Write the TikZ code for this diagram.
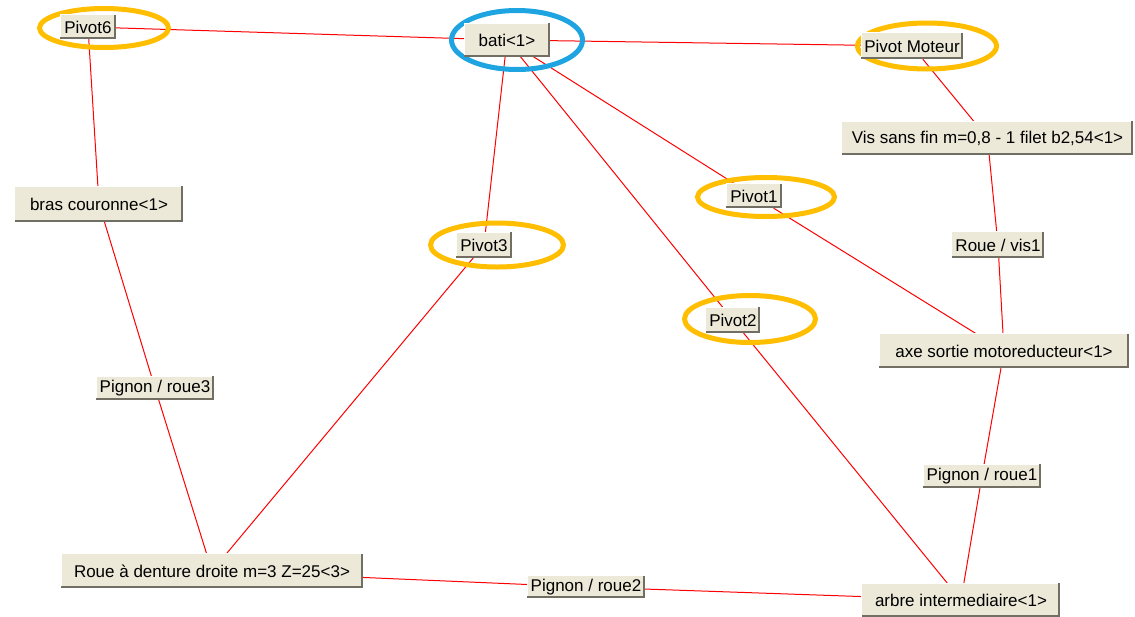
\documentclass[tikz,border=0pt]{standalone}
\usepackage{fontspec}
\setmainfont{Liberation Sans}
\definecolor{btn}{RGB}{236,233,216}
\definecolor{btnshadow}{RGB}{113,111,100}
\definecolor{ringorange}{RGB}{255,190,0}
\definecolor{ringblue}{RGB}{30,165,225}
\pgfdeclarelayer{edges}
\pgfdeclarelayer{rings}
\pgfsetlayers{edges,rings,main}
\newcommand{\bevel}[1]{%
  \draw[bevlight] (#1.south west) -- (#1.north west) -- (#1.north east);
  \draw[bevdark] ([xshift=-1pt]#1.north east) -- ([xshift=-1pt,yshift=1pt]#1.south east) -- ([yshift=1pt]#1.south west);}
\begin{document}
\begin{tikzpicture}[x=1pt,y=-1pt,
  btnbox/.style={fill=btn, inner sep=0pt, text=black, font=\fontsize{17}{19}\selectfont},
  bevlight/.style={draw=white, line width=1pt},
  bevdark/.style={draw=btnshadow, line width=2pt},
  link/.style={draw=red, line width=1pt},
  ringo/.style={draw=ringorange, line width=5pt},
  ringb/.style={draw=ringblue, line width=5pt}]
\begin{pgfonlayer}{edges}
\fill[white] (0,0) rectangle (1135,616);
\end{pgfonlayer}
\useasboundingbox (0,0) rectangle (1135,616);

\node[btnbox, minimum width=55pt, minimum height=24pt] (p6) at (88,27) {Pivot6};
\node[btnbox, minimum width=85pt, minimum height=33pt] (bati) at (507,40) {bati<1>};
\node[btnbox, minimum width=101pt, minimum height=26pt] (pm) at (912,46) {Pivot Moteur};
\node[btnbox, minimum width=291pt, minimum height=33pt] (vis) at (987.5,138) {Vis sans fin m=0,8 - 1 filet b2,54<1>};
\node[btnbox, minimum width=168pt, minimum height=35pt] (bras) at (99,204) {bras couronne<1>};
\node[btnbox, minimum width=55pt, minimum height=25pt] (p3) at (484,245) {Pivot3};
\node[btnbox, minimum width=55pt, minimum height=24pt] (p1) at (754,196) {Pivot1};
\node[btnbox, minimum width=54pt, minimum height=25pt] (p2) at (733,320) {Pivot2};
\node[btnbox, minimum width=92pt, minimum height=26pt] (rv1) at (998,245) {Roue / vis1};
\node[btnbox, minimum width=249pt, minimum height=34pt] (axe) at (1004,351) {axe sortie motoreducteur<1>};
\node[btnbox, minimum width=117pt, minimum height=23pt] (pr3) at (155,388) {Pignon / roue3};
\node[btnbox, minimum width=117pt, minimum height=23pt] (pr1) at (982,476) {Pignon / roue1};
\node[btnbox, minimum width=301pt, minimum height=34pt] (roue) at (212,571) {Roue à denture droite m=3 Z=25<3>};
\node[btnbox, minimum width=117pt, minimum height=22pt] (pr2) at (586,587) {Pignon / roue2};
\node[btnbox, minimum width=198pt, minimum height=33pt] (arbre) at (961,600) {arbre intermediaire<1>};

\foreach \n in {p6,bati,pm,vis,bras,p3,p1,p2,rv1,axe,pr3,pr1,roue,pr2,arbre}{\bevel{\n}}

\begin{pgfonlayer}{edges}
\draw[link] (p6) -- (bati);
\draw[link] (bati) -- (pm);
\draw[link] (pm) -- (vis);
\draw[link] (vis) -- (rv1);
\draw[link] (rv1) -- (axe);
\draw[link] (bati) -- (p1);
\draw[link] (p1) -- (axe);
\draw[link] (bati) -- (p3);
\draw[link] (p3) -- (roue);
\draw[link] (bati) -- (p2);
\draw[link] (p2) -- (arbre);
\draw[link] (axe) -- (pr1);
\draw[link] (pr1) -- (arbre);
\draw[link] (arbre) -- (pr2);
\draw[link] (pr2) -- (roue);
\draw[link] (p6) -- (bras);
\draw[link] (bras) -- (pr3);
\draw[link] (pr3) -- (roue);
\end{pgfonlayer}

\begin{pgfonlayer}{rings}
\draw[ringo] (104,28) ellipse [x radius=64.5, y radius=19.5];
\draw[ringb] (517,40) ellipse [x radius=65.5, y radius=29.5];
\draw[ringo] (927,46) ellipse [x radius=69.5, y radius=23];
\draw[ringo] (497,245) ellipse [x radius=66.5, y radius=22];
\draw[ringo] (766,197) ellipse [x radius=68.5, y radius=19.5];
\draw[ringo] (750,319) ellipse [x radius=65.5, y radius=23.5];
\end{pgfonlayer}
\end{tikzpicture}
\end{document}
